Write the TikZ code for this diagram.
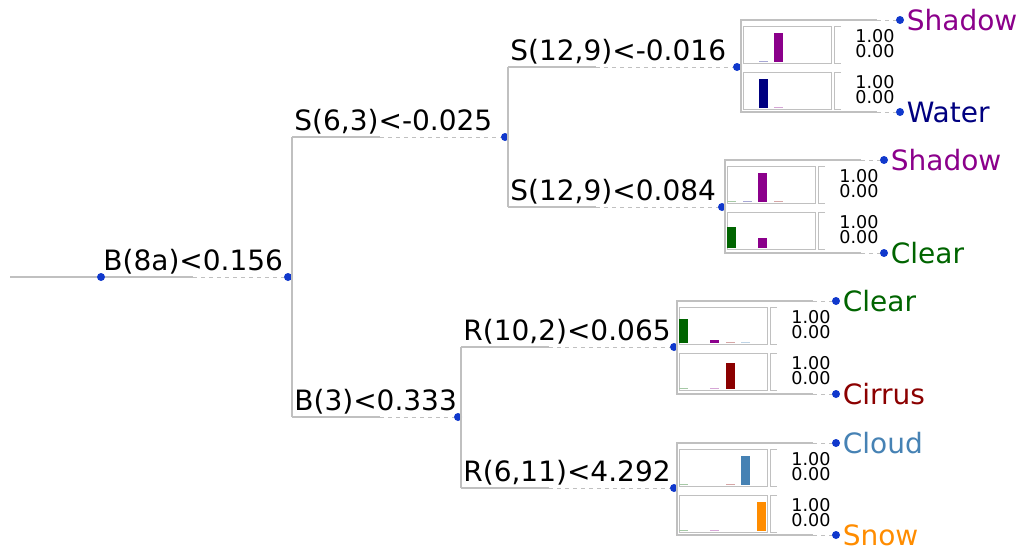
\documentclass[tikz,border=0pt]{standalone}
\usepackage{fontspec}
\setmainfont{DejaVu Sans}
\usetikzlibrary{calc}

\definecolor{linegray}{RGB}{192,192,192}
\definecolor{dotblue}{RGB}{16,56,204}
\definecolor{clearc}{RGB}{0,100,0}
\definecolor{waterc}{RGB}{0,0,128}
\definecolor{shadowc}{RGB}{139,0,139}
\definecolor{cirrusc}{RGB}{139,0,0}
\definecolor{cloudc}{RGB}{70,130,180}
\definecolor{snowc}{RGB}{255,140,0}

\tikzset{
  branch/.style={linegray, line width=0.75pt},
  trail/.style={linegray, line width=0.5pt, dash pattern=on 2pt off 2pt},
  split/.style={anchor=south west, inner sep=1pt, font=\fontsize{14}{16}\selectfont},
  leaf/.style={anchor=west, inner sep=1pt, font=\fontsize{14}{16}\selectfont},
  dot/.style={circle, fill=dotblue, inner sep=0pt, minimum size=4pt},
  frame/.style={draw=linegray, line width=0.5pt},
  prob/.style={anchor=east, inner sep=0pt, font=\fontsize{8.8}{9}\selectfont},
}

% histogram box: x, top y, list of slot/height/colour
\newcommand{\histbox}[3]{%
  \draw[frame] (#1+2,#2) rectangle (#1+90,#2+37);
  \foreach \s/\h/\c in {#3}
    \fill[\c] (#1+2+15.5*\s,#2+36) rectangle ++(9,-\h);
  \draw[frame] (#1+100,#2) -- (#1+93,#2) -- (#1+93,#2+37) -- (#1+100,#2+37);
  \node[prob] at (#1+154,#2+10) {1.00};
  \node[prob] at (#1+154,#2+25) {0.00};
}

\begin{document}
\begin{tikzpicture}[x=0.5pt,y=-0.5pt]
\useasboundingbox (0,0) rectangle (1024,557);

% split labels
\node[split] (b8a) at (101,277) {B(8a)<0.156};
\node[split] (s63) at (292,137) {S(6,3)<-0.025};
\node[split] (b3) at (292,417) {B(3)<0.333};
\node[split] (s129a) at (508,67) {S(12,9)<-0.016};
\node[split] (s129b) at (508,207) {S(12,9)<0.084};
\node[split] (r102) at (461,347) {R(10,2)<0.065};
\node[split] (r611) at (461,488) {R(6,11)<4.292};

% split dots
\node[dot] (root) at (101,277) {};
\node[dot] (b8a-d) at (288,277) {};
\node[dot] (s63-d) at (505,137) {};
\node[dot] (b3-d) at (458,417) {};
\node[dot] (s129a-d) at (737,67) {};
\node[dot] (s129b-d) at (722,207) {};
\node[dot] (r102-d) at (674,347) {};
\node[dot] (r611-d) at (674,488) {};

% tree
\coordinate (in) at (10,277);
\draw[branch] (in) -- (root) -- ++(92,0) coordinate (b8a-m);
\draw[trail] (b8a-m) -- (b8a-d);
\foreach \n in {s63,b3,s129a,s129b,r102,r611}{
  \draw[branch] (\n.south west) -- ++(88,0) coordinate (\n-m);
  \draw[trail] (\n-m) -- (\n-d);
}
\draw[branch] (s63.south west) -- (b3.south west);
\draw[branch] (s129a.south west) -- (s129b.south west);
\draw[branch] (r102.south west) -- (r611.south west);

% leaf groups
\foreach \g/\x/\t/\b in {A/741/20/112,B/725/160/253,C/677/301/394,D/677/443/535}{
  \node[dot] (\g1) at (\x+159,\t) {};
  \node[dot] (\g2) at (\x+159,\b) {};
  \coordinate (\g top) at (\x,\t);
  \coordinate (\g bot) at (\x,\b);
  \draw[branch] ($(\g top)+(136,0)$) coordinate (\g top-m) -- (\g top)
    -- (\g bot) -- ($(\g bot)+(136,0)$) coordinate (\g bot-m);
  \draw[trail] (\g top-m) -- (\g1);
  \draw[trail] (\g bot-m) -- (\g2);
}

\node[leaf, text=shadowc] (A1t) at (A1.east) {Shadow};
\node[leaf, text=waterc] (A2t) at (A2.east) {Water};
\node[leaf, text=shadowc] (B1t) at (B1.east) {Shadow};
\node[leaf, text=clearc] (B2t) at (B2.east) {Clear};
\node[leaf, text=clearc] (C1t) at (C1.east) {Clear};
\node[leaf, text=cirrusc] (C2t) at (C2.east) {Cirrus};
\node[leaf, text=cloudc] (D1t) at (D1.east) {Cloud};
\node[leaf, text=snowc] (D2t) at (D2.east) {Snow};

% class histograms
\histbox{741}{26}{1/1.2/waterc!35, 2/29/shadowc}
\histbox{741}{72}{1/29/waterc, 2/1.2/shadowc!35}
\histbox{725}{166}{0/1.2/clearc!35, 1/1.2/waterc!35, 2/29/shadowc, 3/1.2/cirrusc!35}
\histbox{725}{212}{0/21/clearc, 2/10/shadowc}
\histbox{677}{307}{0/24/clearc, 2/3/shadowc, 3/1.2/cirrusc!35, 4/1.2/cloudc!35}
\histbox{677}{353}{0/1.2/clearc!35, 2/1.2/shadowc!35, 3/26/cirrusc}
\histbox{677}{449}{0/1.2/clearc!35, 3/1.2/cirrusc!35, 4/29/cloudc}
\histbox{677}{495}{0/1.2/clearc!35, 2/1.2/shadowc!35, 5/29/snowc}

\end{tikzpicture}
\end{document}
